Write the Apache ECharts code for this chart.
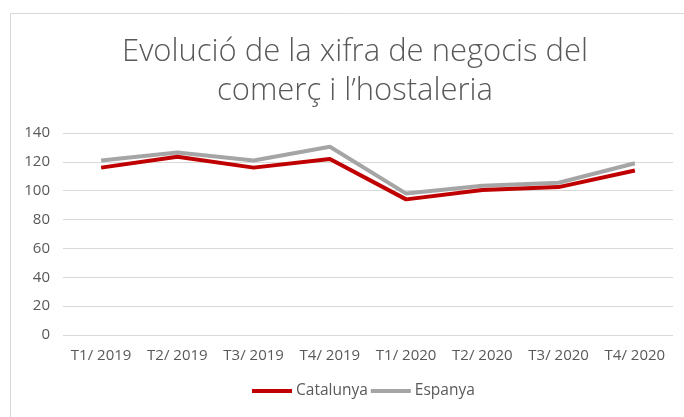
<!DOCTYPE html>
<html><head><meta charset="utf-8">
<script src="https://cdn.jsdelivr.net/npm/echarts@6/dist/echarts.min.js"></script>
<style>html,body{margin:0;padding:0;background:#fff}#c{width:684px;height:417px}</style>
</head><body><div id="c"></div>
<script>
const categories = ['T1/ 2019','T2/ 2019','T3/ 2019','T4/ 2019','T1/ 2020','T2/ 2020','T3/ 2020','T4/ 2020'];
const catalunya = [116, 123.5, 116, 122, 94, 100.5, 102.5, 114];
const espanya = [121, 126.5, 121, 130.5, 98, 103.5, 105.5, 119];
const yTicks = [0, 20, 40, 60, 80, 100, 120, 140];

const chart = echarts.init(document.getElementById('c'));
chart.setOption({
  animation: false,
  graphic: [{
    type: 'rect', left: 8, top: 11, shape: {width: 700, height: 420},
    style: {fill: 'none', stroke: '#d9d9d9', lineWidth: 1}, silent: true
  }],
  title: {
    text: 'Evolució de la xifra de negocis del\ncomerç i l’hostaleria',
    left: 350, textAlign: 'center', top: 28,
    textStyle: {fontFamily: 'Open Sans', fontWeight: 300, fontSize: 31, color: '#595959', lineHeight: 39}
  },
  legend: {
    bottom: 13, left: 247, itemGap: 3, itemWidth: 40, itemHeight: 4,
    icon: 'rect',
    textStyle: {fontFamily: 'Open Sans', fontSize: 15.5, color: '#595959', padding: [0, 0, 0, -1]},
    data: ['Catalunya', 'Espanya']
  },
  grid: {left: 63, right: 11, top: 133, bottom: 82},
  xAxis: {
    type: 'category', data: categories, boundaryGap: true,
    axisLine: {show: false}, axisTick: {show: false},
    axisLabel: {fontFamily: 'Open Sans', fontSize: 15, color: '#595959', margin: 13, interval: 0}
  },
  yAxis: {
    type: 'value', min: yTicks[0], max: yTicks[yTicks.length - 1], interval: 20,
    axisLine: {show: false}, axisTick: {show: false},
    axisLabel: {fontFamily: 'Open Sans', fontSize: 15, color: '#595959', margin: 13},
    splitLine: {lineStyle: {color: '#d9d9d9', width: 1}}
  },
  series: [
    {name: 'Espanya', type: 'line', data: espanya, symbol: 'none', z: 2,
     lineStyle: {color: '#A5A5A5', width: 4}, itemStyle: {color: '#A5A5A5'}},
    {name: 'Catalunya', type: 'line', data: catalunya, symbol: 'none', z: 3,
     lineStyle: {color: '#C00000', width: 4}, itemStyle: {color: '#C00000'}}
  ]
});
</script></body></html>
